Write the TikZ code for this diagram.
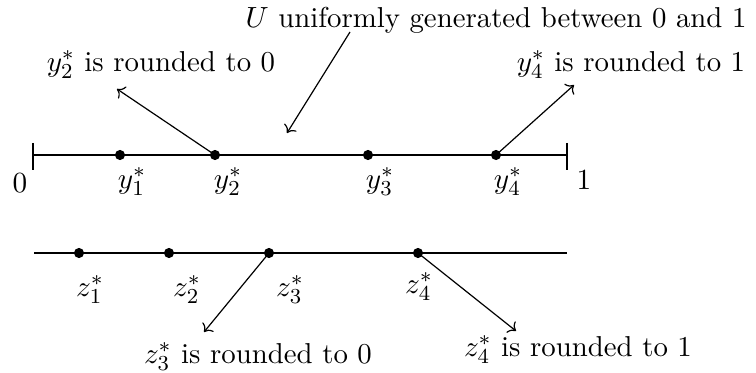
\documentclass[tikz,border=0pt]{standalone}
\usetikzlibrary{arrows.meta}
\begin{document}
\begin{tikzpicture}[x=0.375pt,y=-0.375pt,
  dot/.style={circle,fill,inner sep=0pt,minimum size=3.8pt},
  axis/.style={line width=0.75pt},
  arr/.style={line width=0.45pt,->},
  lbl/.style={inner sep=0pt,font=\fontsize{10.8}{13}\selectfont}]
\useasboundingbox (0,0) rectangle (756,373);
% top axis
\coordinate (L) at (34,155);
\coordinate (R) at (567,155);
\draw[axis] (L) -- (R);
\draw[axis] (33,143) -- (33,170);
\draw[axis] (567,143) -- (567,170);
\node[lbl] (zero) at (20,183) {$0$};
\node[lbl] (one) at (584,180) {$1$};
\node[dot] (y1) at (120,155) {};
\node[dot] (y2) at (215,155) {};
\node[dot] (y3) at (368,155) {};
\node[dot] (y4) at (496,155) {};
\node[lbl] (ly1) at (132,182) {$y_1^*$};
\node[lbl] (ly2) at (228,182) {$y_2^*$};
\node[lbl] (ly3) at (380,182) {$y_3^*$};
\node[lbl] (ly4) at (508,182) {$y_4^*$};
\node[lbl] (tU) at (496,20) {$U$ uniformly generated between 0 and 1};
\node[lbl] (ty2) at (161,65) {$y_2^*$ is rounded to 0};
\node[lbl] (ty4) at (631,65) {$y_4^*$ is rounded to 1};
\coordinate (a2) at (117,89);
\coordinate (u0) at (350,32);
\coordinate (u1) at (287,133);
\coordinate (a4) at (574,85);
\draw[arr] (y2.center) -- (a2);
\draw[arr] (u0) -- (u1);
\draw[arr] (y4.center) -- (a4);
% bottom axis
\coordinate (BL) at (34,253);
\coordinate (BR) at (567,253);
\draw[axis] (BL) -- (BR);
\node[dot] (z1) at (79,253) {};
\node[dot] (z2) at (169,253) {};
\node[dot] (z3) at (269,253) {};
\node[dot] (z4) at (418,253) {};
\node[lbl] (lz1) at (90,290) {$z_1^*$};
\node[lbl] (lz2) at (187,290) {$z_2^*$};
\node[lbl] (lz3) at (290,290) {$z_3^*$};
\node[lbl] (lz4) at (419,287) {$z_4^*$};
\node[lbl] (tz3) at (258,357) {$z_3^*$ is rounded to 0};
\node[lbl] (tz4) at (578,350) {$z_4^*$ is rounded to 1};
\coordinate (b3) at (204,332);
\coordinate (b4) at (516,331);
\draw[arr] (z3.center) -- (b3);
\draw[arr] (z4.center) -- (b4);
\end{tikzpicture}
\end{document}
